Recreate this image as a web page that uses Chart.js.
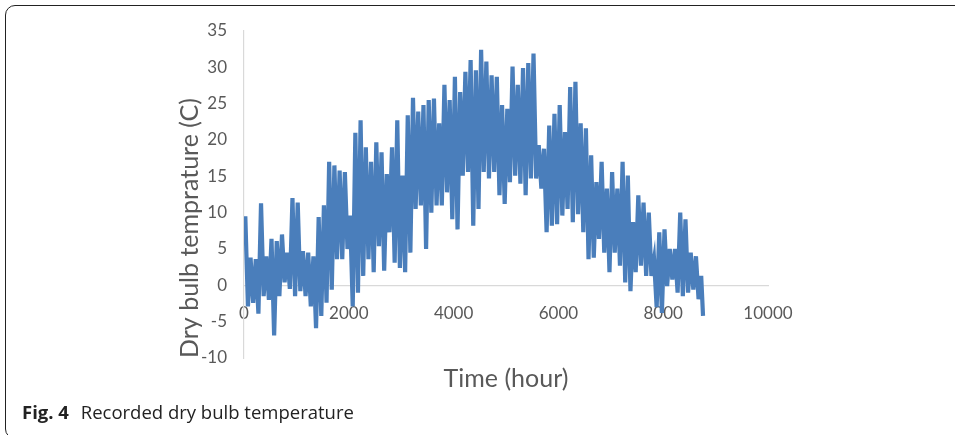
<!DOCTYPE html>
<html>
<head>
<meta charset="utf-8">
<script src="https://cdn.jsdelivr.net/npm/chart.js@4.4.1/dist/chart.umd.min.js"></script>
<style>
    html, body { margin: 0; padding: 0; background: #fff; }
    #wrap { position: relative; width: 955px; height: 435px; overflow: hidden; }
    #chart { position: absolute; left: 0; top: 0; }
    #frame {
        position: absolute; left: 5px; top: 5px; width: 1200px; height: 432px;
        border: 1.5px solid #222; border-radius: 10px; pointer-events: none;
    }
    #caption {
        position: absolute; left: 22px; top: 399px;
        font-family: "Open Sans", sans-serif; font-size: 18.5px; color: #222;
    }
    #caption b { margin-right: 7px; }
</style>
</head>
<body>
<div id="wrap">
    <canvas id="chart" width="955" height="435"></canvas>
    <div id="frame"></div>
    <div id="caption"><b>Fig. 4</b> Recorded dry bulb temperature</div>
</div>
<script>
const binStart = [
    0, 100, 200, 300, 400, 500, 600, 700, 800, 900,
    1000, 1100, 1200, 1300, 1400, 1500, 1600, 1700, 1800, 1900,
    2000, 2100, 2200, 2300, 2400, 2500, 2600, 2700, 2800, 2900,
    3000, 3100, 3200, 3300, 3400, 3500, 3600, 3700, 3800, 3900,
    4000, 4100, 4200, 4300, 4400, 4500, 4600, 4700, 4800, 4900,
    5000, 5100, 5200, 5300, 5400, 5500, 5600, 5700, 5800, 5900,
    6000, 6100, 6200, 6300, 6400, 6500, 6600, 6700, 6800, 6900,
    7000, 7100, 7200, 7300, 7400, 7500, 7600, 7700, 7800, 7900,
    8000, 8100, 8200, 8300, 8400, 8500, 8600, 8700
];
const binHigh = [
    9.5, 3.8, 3.6, 11.3, 4.0, 6.4, 6.1, 7.0, 4.5, 12.0,
    11.4, 4.7, 4.5, 4.0, 9.4, 11.0, 17.0, 16.5, 15.8, 15.6,
    9.6, 21.0, 22.7, 19.0, 17.0, 19.7, 18.3, 15.3, 19.0, 22.7,
    15.1, 23.4, 25.8, 23.9, 24.8, 25.5, 25.7, 22.3, 27.6, 25.5,
    28.7, 26.6, 29.4, 31.0, 29.6, 32.4, 30.8, 28.9, 28.7, 24.8,
    24.3, 30.1, 27.6, 29.9, 30.6, 31.9, 19.3, 18.8, 22.0, 23.6,
    24.8, 21.1, 27.3, 28.0, 22.3, 21.6, 17.9, 14.2, 17.0, 13.3,
    15.6, 13.3, 17.0, 15.1, 8.7, 12.4, 11.4, 10.0, 3.6, 7.3,
    7.7, 5.0, 5.0, 10.0, 9.1, 4.5, 4.0, 1.3
];
const binLow = [
    -2.9, -2.4, -3.9, -1.5, -2.0, -6.9, -1.5, 0.4, -0.5, -1.5,
    -0.8, -1.5, -2.9, -5.9, -4.2, -2.4, -0.6, 3.6, 3.6, 5.0,
    -2.9, -1.0, 1.3, 3.6, 1.8, 5.4, 2.0, 7.3, 3.1, 2.4,
    1.8, 4.5, 10.5, 11.0, 5.0, 10.0, 11.0, 11.0, 12.8, 9.1,
    7.7, 15.1, 15.6, 8.2, 10.5, 15.6, 14.7, 15.6, 12.4, 11.2,
    14.2, 15.1, 14.0, 12.4, 14.7, 14.7, 13.3, 7.3, 8.2, 8.4,
    9.6, 10.5, 8.7, 9.8, 7.3, 3.6, 3.8, 6.4, 4.5, 1.8,
    4.5, 2.7, 0.4, -0.8, 1.8, 2.7, 1.3, 1.3, -3.0, -3.8,
    -0.1, 0.8, -1.0, -1.5, -1.0, -0.6, -1.9, -4.2
];
const lastHour = 8760;
const xTicks = [0, 2000, 4000, 6000, 8000, 10000];
const yTicks = [-10, -5, 0, 5, 10, 15, 20, 25, 30, 35];

const points = [];
binStart.forEach((h, i) => {
    points.push({ x: h + 25, y: binHigh[i] });
    points.push({ x: Math.min(h + 75, lastHour), y: binLow[i] });
});

const tickColor = '#595959';
const axisFont = { family: 'Lato, sans-serif', size: 17 };
const titleFont = { family: 'Lato, sans-serif', size: 25 };
const plain = (v) => String(v);

new Chart(document.getElementById('chart'), {
    type: 'line',
    data: {
        datasets: [{
            data: points,
            borderColor: '#4a7ebb',
            borderWidth: 4.2,
            borderJoinStyle: 'miter',
            borderCapStyle: 'butt',
            pointRadius: 0,
            tension: 0
        }]
    },
    options: {
        responsive: false,
        animation: false,
        layout: { padding: { left: 0, right: 187, top: 31, bottom: 77 } },
        plugins: {
            legend: { display: false },
            tooltip: { enabled: false }
        },
        scales: {
            x: {
                type: 'linear',
                position: { y: 0 },
                min: xTicks[0],
                max: xTicks[xTicks.length - 1],
                afterBuildTicks: (axis) => { axis.ticks = xTicks.map((v) => ({ value: v })); },
                afterFit: (axis) => { axis.height = 109; },
                ticks: { color: tickColor, font: axisFont, padding: 18, maxRotation: 0, callback: plain },
                grid: { color: 'rgba(0,0,0,0)', drawTicks: false },
                border: { color: '#d9d9d9', width: 1.2 },
                title: { display: true, text: 'Time (hour)', color: tickColor, font: titleFont, padding: 0 }
            },
            y: {
                min: yTicks[0],
                max: yTicks[yTicks.length - 1],
                afterBuildTicks: (axis) => { axis.ticks = yTicks.map((v) => ({ value: v })); },
                afterFit: (axis) => { axis.width = 244; },
                ticks: { color: tickColor, font: axisFont, padding: 17, callback: plain },
                grid: { color: 'rgba(0,0,0,0)', drawTicks: false },
                border: { color: '#d9d9d9', width: 1.2 },
                title: {
                    display: true, text: 'Dry bulb temprature (C)', color: tickColor,
                    font: titleFont, align: 'start', padding: { top: 175, bottom: 0 }
                }
            }
        }
    }
});
</script>
</body>
</html>
